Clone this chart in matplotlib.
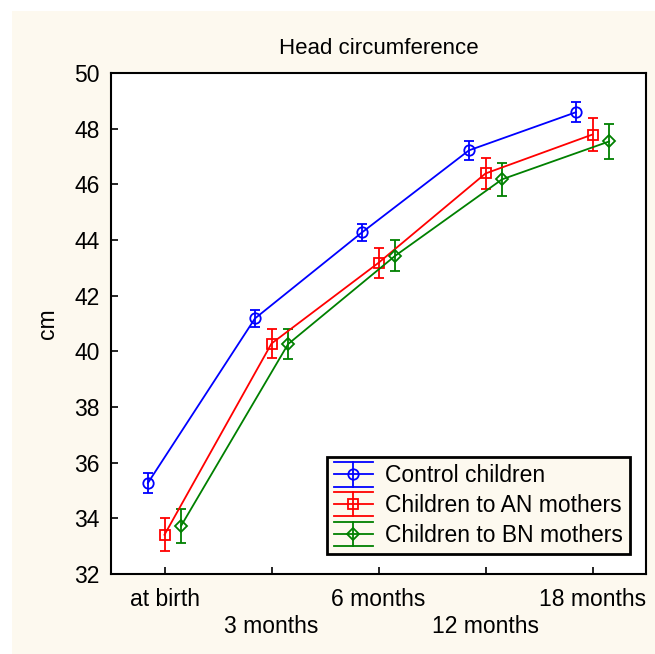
import numpy as np
import matplotlib
matplotlib.use('Agg')
from matplotlib import pyplot as plt
from matplotlib.lines import Line2D
from matplotlib.patches import Rectangle
from matplotlib.legend_handler import HandlerBase

plt.rcParams['font.family'] = ['Liberation Sans', 'DejaVu Sans']

ages = ['at birth', '3 months', '6 months', '12 months', '18 months']

control_mean = [35.27, 41.18, 44.27, 47.22, 48.59]
control_err = [0.36, 0.32, 0.32, 0.35, 0.36]

an_mean = [33.41, 40.28, 43.18, 46.39, 47.79]
an_err = [0.60, 0.53, 0.53, 0.57, 0.59]

bn_mean = [33.73, 40.26, 43.43, 46.18, 47.54]
bn_err = [0.62, 0.54, 0.56, 0.60, 0.62]

groups = [
    ('Control children', control_mean, control_err, '#0000ff', 'o', -0.155),
    ('Children to AN mothers', an_mean, an_err, '#ff0000', 's', 0.0),
    ('Children to BN mothers', bn_mean, bn_err, '#008000', 'D', 0.155),
]

cream = '#fdf9ef'
fs = 16.5


class ErrorbarKey(HandlerBase):
    # legend key: line with marker, a vertical bar and wide caps above/below
    def create_artists(self, legend, orig_handle, xdescent, ydescent,
                       width, height, fontsize, trans):
        c = orig_handle.get_color()
        x0, x1 = -xdescent, -xdescent + width
        xm = (x0 + x1) / 2
        ym = -ydescent + height / 2
        dy = 8.8
        kw = dict(color=c, lw=1.3)
        top = Line2D([x0, x1], [ym + dy, ym + dy], **kw)
        bot = Line2D([x0, x1], [ym - dy, ym - dy], **kw)
        vert = Line2D([xm, xm], [ym - dy, ym + dy], **kw)
        mid = Line2D([x0, xm, x1], [ym, ym, ym], marker=orig_handle.get_marker(),
                     markevery=[1], ms=orig_handle.get_markersize(),
                     mfc='none', mec=c, mew=1.3, **kw)
        artists = [top, bot, vert, mid]
        for a in artists:
            a.set_transform(trans)
        return artists


fig = plt.figure(figsize=(6.55, 6.54), dpi=100, facecolor='white')
fig.patches.append(Rectangle((12 / 655, 0), 1 - 12 / 655, 643 / 654,
                             transform=fig.transFigure, facecolor=cream,
                             edgecolor='none', zorder=-10))

ax = fig.add_axes([111 / 655, 80 / 654, 535 / 655, 501 / 654])
ax.set_facecolor('white')

x = np.arange(len(ages))
proxies = []
for label, mean, err, color, marker, shift in groups:
    ms = 6.5 if marker == 'D' else 7.5
    ax.errorbar(x + shift, mean, yerr=err, color=color, marker=marker, ms=ms,
                mfc='none', mec=color, mew=1.3, lw=1.3, elinewidth=1.3,
                capsize=3.8, capthick=1.3)
    proxies.append(Line2D([], [], color=color, marker=marker, ms=ms, label=label))

ax.set_xlim(-0.5, 4.5)
ax.set_ylim(32, 50)
ax.set_yticks(np.arange(32, 51, 2))
ax.set_xticks(x)
ax.set_xticklabels([a if i % 2 == 0 else '\n' + a for i, a in enumerate(ages)])
for t in ax.get_xticklabels():
    t.set_linespacing(1.25)
ax.tick_params(direction='in', length=5, width=1.2, labelsize=fs)
ax.tick_params(axis='x', pad=10)
ax.tick_params(axis='y', pad=8)
for s in ax.spines.values():
    s.set_linewidth(1.5)

ax.set_ylabel('cm', fontsize=fs, labelpad=11)
ax.set_title('Head circumference', fontsize=16, pad=13.5)

leg = ax.legend(handles=proxies, handler_map={Line2D: ErrorbarKey()},
                loc='lower right', bbox_to_anchor=(0.97, 0.04),
                fontsize=fs, frameon=True, fancybox=False,
                facecolor=cream, edgecolor='black', framealpha=1,
                handlelength=1.7, handletextpad=0.55, labelspacing=0.3,
                borderpad=0.3, borderaxespad=0)
leg.get_frame().set_linewidth(2)

fig.savefig('out.png', dpi=100, facecolor=fig.get_facecolor())
